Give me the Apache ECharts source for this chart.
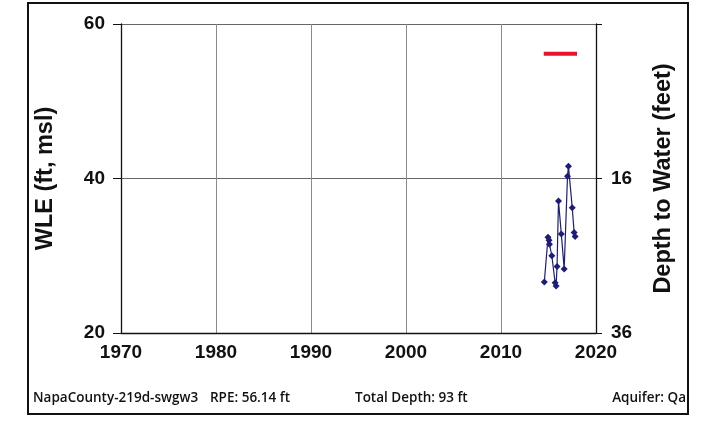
<!DOCTYPE html>
<html><head><meta charset="utf-8">
<script src="https://cdn.jsdelivr.net/npm/echarts@6/dist/echarts.min.js"></script>
<style>html,body{margin:0;padding:0;background:#fff}#c{width:703px;height:424px}</style>
</head><body><div id="c"></div>
<script>
const years = [2014.56, 2014.95, 2015.05, 2015.1, 2015.35, 2015.7, 2015.8, 2015.9, 2016.05, 2016.35, 2016.65, 2017.0, 2017.1, 2017.5, 2017.7, 2017.8];
const wle = [26.6, 32.4, 32.0, 31.5, 30.0, 26.5, 26.1, 28.6, 37.1, 32.8, 28.3, 40.3, 41.6, 36.2, 33.0, 32.5];
const rpeX = [2014.5, 2018.0];
const rpeY = [56.14, 56.14];
const xTicks = [1970, 1980, 1990, 2000, 2010, 2020];
const leftTicks = [20, 40, 60];
const rightTicks = [16, 36];
const footer = ['NapaCounty-219d-swgw3', 'RPE: 56.14 ft', 'Total Depth: 93 ft', 'Aquifer: Qa'];

const chart = echarts.init(document.getElementById('c'));
const lblFont = {fontFamily: 'Liberation Sans, Arial', fontWeight: 'bold', fontSize: 19, color: '#111'};
const titleFont = {fontFamily: 'Liberation Sans, Arial', fontWeight: 'bold', fontSize: 23.5, color: '#111'};
const footFont = '600 13.5px "Open Sans", sans-serif';
chart.setOption({
  animation: false,
  grid: {left: 121, right: 107, top: 24, bottom: 91, show: false},
  xAxis: {
    type: 'value', min: 1970, max: 2020, interval: 10,
    axisLine: {show: true, onZero: false, lineStyle: {color: '#111', width: 1.3}},
    axisTick: {show: false},
    splitLine: {show: true, lineStyle: {color: '#8a8a8a', width: 1}},
    axisLabel: Object.assign({margin: 10, formatter: v => xTicks.includes(v) ? String(v) : ''}, lblFont)
  },
  yAxis: [{
    type: 'value', min: 20, max: 60, interval: 20, position: 'left',
    name: 'WLE (ft, msl)', nameLocation: 'middle', nameGap: 63, nameRotate: 90,
    nameTextStyle: titleFont,
    axisLine: {show: true, lineStyle: {color: '#111', width: 1.3}},
    axisTick: {show: true, length: 8, lineStyle: {color: '#111'}},
    splitLine: {show: true, lineStyle: {color: '#666', width: 1.2}},
    axisLabel: Object.assign({margin: 16, formatter: v => leftTicks.includes(v) ? String(v) : ''}, lblFont)
  }, {
    type: 'value', min: -4, max: 36, interval: 20, inverse: true, position: 'right',
    name: 'Depth to Water (feet)', nameLocation: 'middle', nameGap: 56, nameRotate: 90,
    nameTextStyle: titleFont,
    axisLine: {show: true, lineStyle: {color: '#111', width: 1.3}},
    axisTick: {show: true, length: 6, lineStyle: {color: '#111'}},
    splitLine: {show: false},
    axisLabel: Object.assign({margin: 15, formatter: v => rightTicks.includes(v) ? String(v) : ''}, lblFont)
  }],
  series: [{
    type: 'line', data: years.map((x, i) => [x, wle[i]]),
    lineStyle: {color: '#1c1c7a', width: 1.2},
    itemStyle: {color: '#1c1c7a'},
    symbol: 'diamond', symbolSize: 7, showSymbol: true
  }, {
    type: 'line', data: rpeX.map((x, i) => [x, rpeY[i]]),
    lineStyle: {color: '#e8102a', width: 4}, symbol: 'none'
  }],
  graphic: [
    {type: 'rect', shape: {x: 28, y: 3, width: 660, height: 411}, style: {fill: 'none', stroke: '#111', lineWidth: 2}, silent: true},
    {type: 'text', x: 33, y: 391, style: {text: footer[0], font: footFont, fill: '#111'}},
    {type: 'text', x: 210, y: 391, style: {text: footer[1], font: footFont, fill: '#111'}},
    {type: 'text', x: 355, y: 391, style: {text: footer[2], font: footFont, fill: '#111'}},
    {type: 'text', x: 686, y: 391, style: {text: footer[3], font: footFont, fill: '#111', textAlign: 'right'}}
  ]
});
</script></body></html>
